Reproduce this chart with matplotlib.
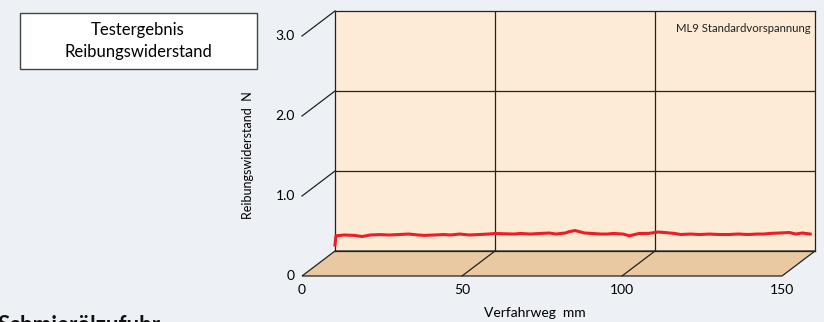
import matplotlib
matplotlib.use('Agg')
import matplotlib.pyplot as plt
from matplotlib.patches import Polygon, Rectangle

plt.rcParams['font.family'] = ['Lato', 'DejaVu Sans']

# Messdaten: Verfahrweg (mm) und Reibungswiderstand (N)
weg = [0, 0.3, 3, 6, 8.5, 11, 14, 17, 20, 23, 26, 28, 31, 34, 36, 39, 42,
       45, 48, 50, 53, 56, 58, 61, 64, 67, 69, 72, 73, 75, 78, 80, 83, 85,
       87, 90, 92, 95, 98, 100, 101, 103, 106, 108, 111, 114, 117, 120, 123,
       126, 129, 132, 134, 136, 139, 142, 144, 146, 148.5]
widerstand = [0.075, 0.19, 0.2, 0.195, 0.181, 0.2, 0.205, 0.2, 0.206, 0.212,
              0.2, 0.195, 0.2, 0.206, 0.2, 0.212, 0.2, 0.206, 0.212, 0.219,
              0.215, 0.212, 0.219, 0.212, 0.219, 0.225, 0.212, 0.225, 0.24,
              0.256, 0.225, 0.22, 0.212, 0.212, 0.219, 0.212, 0.19, 0.219,
              0.22, 0.231, 0.2375, 0.231, 0.22, 0.206, 0.212, 0.206, 0.212,
              0.206, 0.206, 0.2125, 0.206, 0.212, 0.212, 0.22, 0.225, 0.231,
              0.212, 0.225, 0.212]

x_ticks = [0, 50, 100, 150]
y_ticks = [1.0, 2.0, 3.0]

# Perspektiv-Versatz der Vorderkante (in Datenkoordinaten)
DX = -33 / 3.2
DY = -25 / 80

fig = plt.figure(figsize=(8.24, 3.22), dpi=100)
fig.patch.set_facecolor('#edf0f4')

ax = fig.add_axes([335 / 824, (322 - 251) / 322, 480 / 824, 240 / 322])
ax.set_facecolor('#fdebd5')
ax.set_xlim(0, 150)
ax.set_ylim(0, 3)
ax.set_xticks([])
ax.set_yticks([])
for s in ax.spines.values():
    s.set_color('#222222')
    s.set_linewidth(0.9)

for v in x_ticks[1:-1]:
    ax.axvline(v, color='#222222', lw=0.9)
for v in y_ticks[:-1]:
    ax.axhline(v, color='#222222', lw=0.9)

# Boden
floor = Polygon([(0, 0), (150, 0), (150 + DX, DY), (DX, DY)], closed=True,
                facecolor='#e8c9a2', edgecolor='#222222', lw=0.9, clip_on=False)
ax.add_patch(floor)
for v in x_ticks[1:-1]:
    ax.plot([v, v + DX], [0, DY], color='#222222', lw=0.9, clip_on=False)

# Messkurve
ax.plot(weg, widerstand, color='#ee1c25', lw=2.2, clip_on=False, zorder=5)

# Achsbeschriftung
for v in y_ticks:
    ax.plot([DX, 0], [v + DY, v], color='#222222', lw=0.9, clip_on=False)
    ax.annotate('%.1f' % v, xy=(DX, v + DY), xytext=(-5, 0),
                textcoords='offset points', ha='right', va='center',
                fontsize=10, annotation_clip=False)
ax.annotate('0', xy=(DX, DY), xytext=(-5, 0), textcoords='offset points',
            ha='right', va='center', fontsize=10, annotation_clip=False)
for v in x_ticks:
    ax.annotate(str(v), xy=(v + DX, DY), xytext=(0, -6),
                textcoords='offset points', ha='center', va='top',
                fontsize=10, annotation_clip=False)

ax.text(148.5, 2.78, 'ML9 Standardvorspannung', ha='right', va='center',
        fontsize=8.2, color='#222222')

fig.text(248 / 824, 1 - 155 / 322, 'Reibungswiderstand  N', rotation=90,
         ha='center', va='center', fontsize=9)
fig.text(535 / 824, 1 - 313 / 322, 'Verfahrweg  mm', ha='center',
         va='center', fontsize=10)

# Titelkasten
fig.patches.append(Rectangle((20 / 824, 1 - 69 / 322), 237 / 824, 56 / 322,
                             transform=fig.transFigure, facecolor='white',
                             edgecolor='#444444', lw=1))
fig.text(138 / 824, 1 - 41 / 322, 'Testergebnis\nReibungswiderstand',
         ha='center', va='center', fontsize=12, linespacing=1.45)

fig.text(-2 / 824, 1 - 315 / 322, 'Schmierölzufuhr', ha='left', va='top',
         fontsize=16, fontweight='bold', color='#111111')

fig.savefig('out.png', dpi=100, facecolor=fig.get_facecolor())
